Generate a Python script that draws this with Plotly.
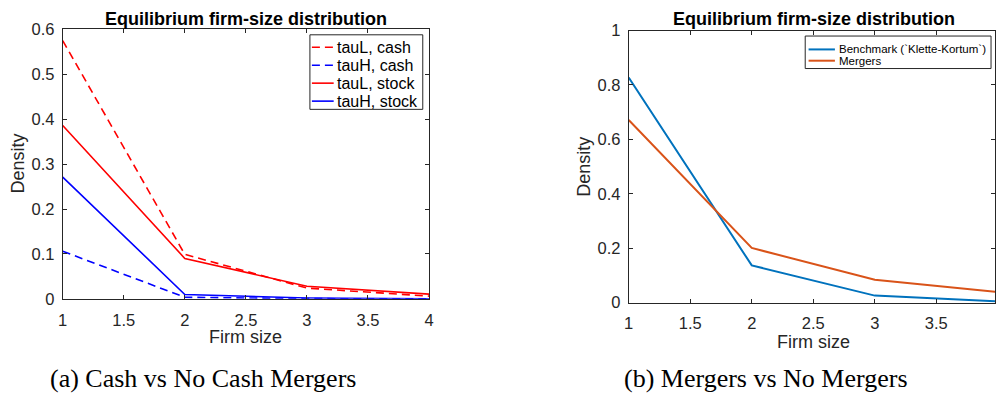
import plotly.graph_objects as go

# ---- data -------------------------------------------------------------
firm_size = [1, 2, 3, 4]

# panel (a): cash vs stock mergers
tauL_cash = [0.575, 0.099, 0.024, 0.006]
tauH_cash = [0.106, 0.0035, 0.0005, 0.0]
tauL_stock = [0.386, 0.090, 0.028, 0.0105]
tauH_stock = [0.271, 0.0098, 0.002, 0.0]

# panel (b): mergers vs no mergers
benchmark = [0.827, 0.137, 0.026, 0.005]
mergers = [0.671, 0.201, 0.084, 0.039]

x_ticks = [1, 1.5, 2, 2.5, 3, 3.5, 4]
y_ticks_a = [0, 0.1, 0.2, 0.3, 0.4, 0.5, 0.6]
y_ticks_b = [0, 0.2, 0.4, 0.6, 0.8, 1]

TITLE = "Equilibrium firm-size distribution"
W, H = 1000, 406

def px(x):
    return x / W

def py(y):
    return 1 - y / H

AX = "#262626"
SANS = "Liberation Sans, Arial, sans-serif"
DASH = "8px,5px"

fig = go.Figure()

series_a = [
    ("tauL, cash", tauL_cash, "#ff0000", DASH),
    ("tauH, cash", tauH_cash, "#0000ff", DASH),
    ("tauL, stock", tauL_stock, "#ff0000", "solid"),
    ("tauH, stock", tauH_stock, "#0000ff", "solid"),
]
for name, vals, col, dash in series_a:
    fig.add_trace(go.Scatter(x=firm_size, y=vals, mode="lines", name=name,
                             line=dict(color=col, width=1.6, dash=dash),
                             xaxis="x", yaxis="y", showlegend=False))

series_b = [
    ("Benchmark (`Klette-Kortum`)", benchmark, "#0072bd"),
    ("Mergers", mergers, "#d95319"),
]
for name, vals, col in series_b:
    fig.add_trace(go.Scatter(x=firm_size, y=vals, mode="lines", name=name,
                             line=dict(color=col, width=2),
                             xaxis="x2", yaxis="y2", showlegend=False))

axis_common = dict(showgrid=False, zeroline=False, showline=True, linecolor=AX,
                   linewidth=1, ticks="inside", ticklen=4, tickcolor=AX,
                   tickwidth=1, mirror="ticks",
                   tickfont=dict(family=SANS, size=16.5, color=AX))

fig.update_layout(
    width=W, height=H, margin=dict(l=0, r=0, t=0, b=0),
    paper_bgcolor="white", plot_bgcolor="white",
    xaxis=dict(axis_common, domain=[px(58.3), px(428.3)], range=[1, 4],
               tickvals=x_ticks, anchor="y", ticklabelstandoff=6),
    yaxis=dict(axis_common, domain=[py(303.3), py(21.3)], range=[0, 0.6],
               tickvals=y_ticks_a, anchor="x", ticklabelstandoff=4),
    xaxis2=dict(axis_common, domain=[px(630), 1.0], range=[1, 3.977],
                tickvals=x_ticks, anchor="y2", ticklabelstandoff=6),
    yaxis2=dict(axis_common, domain=[py(307.3), py(22.5)], range=[0, 1],
                tickvals=y_ticks_b, anchor="x2", ticklabelstandoff=4),
)

annotations = []
shapes = []

def label(x, y, text, size, **kw):
    d = dict(xref="paper", yref="paper", x=px(x), y=py(y), text=text,
             showarrow=False, font=dict(family=SANS, size=size, color=kw.pop("color", AX)),
             xanchor=kw.pop("xanchor", "center"), yanchor=kw.pop("yanchor", "middle"))
    d.update(kw)
    annotations.append(d)

# titles
label(243, -2, "<b>" + TITLE + "</b>", 18, color="#000", yanchor="top")
label(817.5, -2, "<b>" + TITLE + "</b>", 18, color="#000", yanchor="top")

# axis titles
label(243.3, 343.5, "Firm size", 18)
label(816.7, 348.5, "Firm size", 18)
label(13, 161.7, "Density", 18, textangle=-90)
label(585, 165, "Density", 18, textangle=-90)

# captions
for cx, txt in [(200, "(a) Cash vs No Cash Mergers"), (769, "(b) Mergers vs No Mergers")]:
    annotations.append(dict(xref="paper", yref="paper", x=px(cx), y=py(387),
                            text=txt, showarrow=False, xanchor="center", yanchor="middle",
                            font=dict(family="Liberation Serif, Times New Roman, serif",
                                      size=26, color="#000")))

# legend for panel (a)
shapes.append(dict(type="rect", xref="paper", yref="paper",
                   x0=px(308), x1=px(422), y0=py(27), y1=py(105),
                   line=dict(color=AX, width=1), fillcolor="white", layer="above"))
for i, (name, vals, col, dash) in enumerate(series_a):
    yy = 40 + i * 18.8
    shapes.append(dict(type="line", xref="paper", yref="paper",
                       x0=px(310), x1=px(332), y0=py(yy), y1=py(yy),
                       line=dict(color=col, width=1.6, dash=dash), layer="above"))
    label(334, yy, name, 16, color="#000", xanchor="left", borderpad=0)

# legend for panel (b)
shapes.append(dict(type="rect", xref="paper", yref="paper",
                   x0=px(808.3), x1=px(996), y0=py(28.3), y1=py(62.3),
                   line=dict(color=AX, width=1), fillcolor="white", layer="above"))
for i, (name, vals, col) in enumerate(series_b):
    yy = 42.3 + i * 11.8
    shapes.append(dict(type="line", xref="paper", yref="paper",
                       x0=px(811.7), x1=px(838.3), y0=py(yy), y1=py(yy),
                       line=dict(color=col, width=2), layer="above"))
    label(841.7, yy, name, 11.5, color="#000", xanchor="left", borderpad=0)

fig.update_layout(annotations=annotations, shapes=shapes)

fig.write_html("out.html")
